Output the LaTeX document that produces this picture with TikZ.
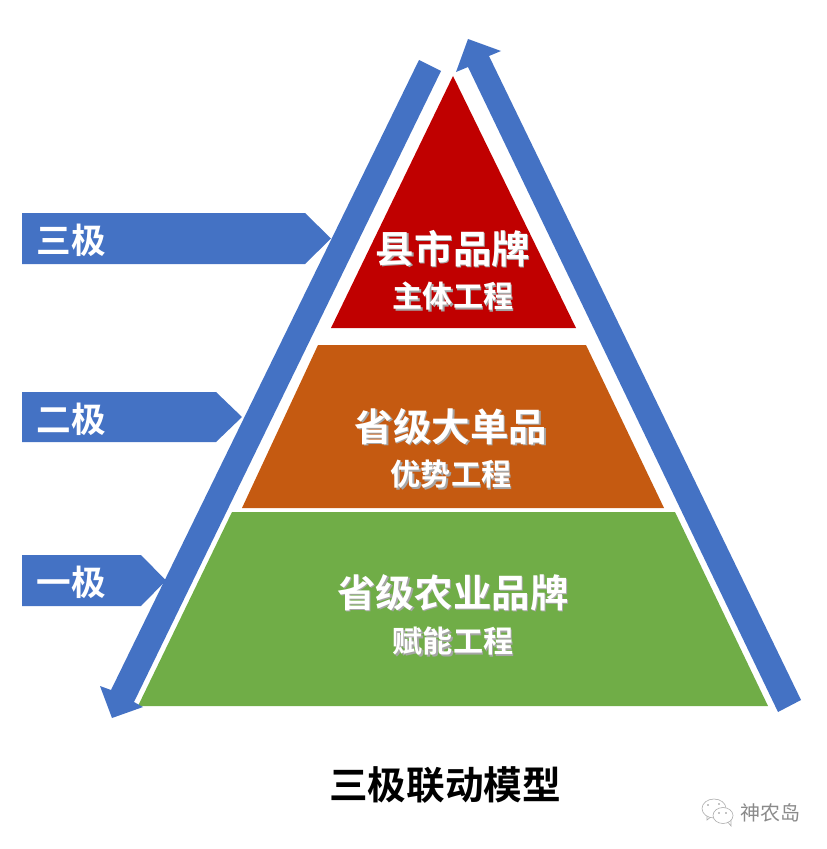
\documentclass[tikz,border=0pt]{standalone}
\usepackage{fontspec}
\setmainfont{Noto Sans CJK SC}[BoldFont={* Bold}]
\newfontfamily\wmfont{Noto Sans CJK SC}
\definecolor{bluea}{HTML}{4472C4}
\definecolor{reda}{HTML}{C00000}
\definecolor{orangea}{HTML}{C55A11}
\definecolor{greena}{HTML}{70AD47}
\definecolor{wmgray}{HTML}{8A8A8A}
\newcommand{\shadowed}[1]{\makebox[0pt][l]{\kern1pt\raisebox{-1pt}{\textcolor{black!35}{#1}}}\textcolor{white}{#1}}
\tikzset{
  band/.style={fill=bluea,draw=none},
  tier/.style={draw=none},
  bigtxt/.style={font=\bfseries\fontsize{28.9}{30}\selectfont,inner sep=0pt,text=white},
  smalltxt/.style={font=\bfseries\fontsize{22.6}{24}\selectfont,inner sep=0pt,text=white},
  leveltxt/.style={font=\bfseries\fontsize{26}{27}\selectfont,inner sep=0pt,text=white},
  titletxt/.style={font=\bfseries\fontsize{29}{30}\selectfont,inner sep=0pt,text=black},
  wmtxt/.style={font=\wmfont\fontsize{15}{16}\selectfont,inner sep=0pt,text=wmgray},
  bubble/.style={draw=wmgray!70,line width=0.45pt,fill=white}
}
\begin{document}
\begin{tikzpicture}[x=0.75pt,y=-0.75pt]
\useasboundingbox (0,0) rectangle (826,849);
% tiers
\fill[tier,reda] (453,76) -- (576,328) -- (331,328) -- cycle;
\fill[tier,orangea] (318,345) -- (586,345) -- (664,508) -- (242,508) -- cycle;
\fill[tier,greena] (232,512) -- (675,512) -- (768,706) -- (138,706) -- cycle;
% level tags
\fill[band] (22,213) -- (305,213) -- (331,238.5) -- (305,264) -- (22,264) -- cycle;
\fill[band] (22,392) -- (216,392) -- (242,417) -- (216,442) -- (22,442) -- cycle;
\fill[band] (22,555) -- (141,555) -- (166,580.5) -- (141,606) -- (22,606) -- cycle;
% long arrows
\fill[band] (419,60) -- (441,71) -- (134,702) -- (143,707) -- (112,718) -- (100,686) -- (111,690) -- cycle;
\fill[band] (801,700) -- (778,712) -- (468,67) -- (456,72) -- (468,39) -- (501,51) -- (489,56) -- cycle;
% labels
\node[bigtxt] (t1) at (453,249) {\shadowed{县市品牌}};
\node[smalltxt] (t2) at (453,297) {\shadowed{主体工程}};
\node[bigtxt] (t3) at (451,427) {\shadowed{省级大单品}};
\node[smalltxt] (t4) at (451,475) {\shadowed{优势工程}};
\node[bigtxt] (t5) at (453,593) {\shadowed{省级农业品牌}};
\node[smalltxt] (t6) at (453,642) {\shadowed{赋能工程}};
\node[leveltxt] (l3) at (71.5,240.5) {三极};
\node[leveltxt] (l2) at (71.5,419) {二极};
\node[leveltxt] (l1) at (71.5,582) {一极};
\node[titletxt] (title) at (445,785) {三极联动模型};
% watermark
\draw[bubble] (707,815) -- (707,820) -- (712,816);
\fill[bubble] (714,808.5) ellipse (12 and 9.5);
\draw[bubble] (727,821) -- (731,826) -- (731,819);
\fill[bubble] (723,815.5) ellipse (10 and 8);
\foreach \p in {(708,805),(719,804),(719,813),(726,813)} \fill[wmgray] \p circle (0.8);
\node[wmtxt] (wm) at (770,812.5) {神农岛};
\end{tikzpicture}
\end{document}
